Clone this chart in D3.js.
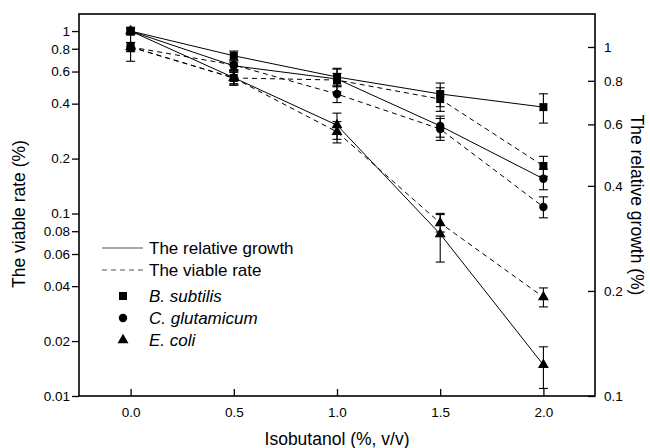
<!DOCTYPE html>
<html>
<head>
<meta charset="utf-8">
<script src="https://cdn.jsdelivr.net/npm/d3@7"></script>
<style>
  body { margin: 0; background: #fff; }
  svg text { font-family: "Liberation Sans", Arial, sans-serif; fill: #000; }
</style>
</head>
<body>
<div id="app"></div>
<script>
// isobutanol dose (%, v/v)
const doses = [0, 0.5, 1.0, 1.5, 2.0];
const species = ["B. subtilis", "C. glutamicum", "E. coli"];
const symbols = ["square", "circle", "triangle"];

// solid lines (left scale)
const growthBs = [1.0, 0.732, 0.56, 0.452, 0.383];
const growthCg = [1.0, 0.645, 0.546, 0.302, 0.155];
const growthEc = [1.0, 0.555, 0.305, 0.0772, 0.0148];
const growthBsErr = [0.05, 0.045, 0.065, 0.067, 0.07];
const growthCgErr = [0.03, 0.03, 0.04, 0.04, 0.02];
const growthEcErr = [0.03, 0.05, 0.05, 0.023, 0.0038];

// dashed lines (right scale)
const viableBs = [1.0, 0.815, 0.804, 0.709, 0.456];
const viableCg = [1.0, 0.888, 0.733, 0.582, 0.348];
const viableEc = [1.0, 0.815, 0.571, 0.313, 0.192];
const viableBsErr = [0.09, 0.037, 0.06, 0.055, 0.03];
const viableCgErr = [0.03, 0.03, 0.04, 0.042, 0.024];
const viableEcErr = [0.03, 0.03, 0.04, 0.018, 0.012];

const xTicks = [0, 0.5, 1.0, 1.5, 2.0];
const leftTicks = [0.01, 0.02, 0.04, 0.06, 0.08, 0.1, 0.2, 0.4, 0.6, 0.8, 1];
const rightTicks = [0.1, 0.2, 0.4, 0.6, 0.8, 1];

const W = 650, H = 448;
const plot = {left: 79, right: 595, top: 14, bottom: 396};

const svg = d3.select("#app").append("svg")
    .attr("width", W)
    .attr("height", H);

const x = d3.scaleLinear().domain([-0.25, 2.25]).range([plot.left, plot.right]);
const yLeft = d3.scaleLog().domain([0.01, 1.24]).range([plot.bottom, plot.top]);
const yRight = d3.scaleLog().domain([0.1, 1.243]).range([plot.bottom, plot.top]);

// axes
const xAxis = svg.append("g")
    .attr("transform", "translate(0," + plot.bottom + ")")
    .call(d3.axisBottom(x).tickValues(xTicks).tickFormat(d3.format(".1f"))
        .tickSizeInner(-7).tickSizeOuter(0).tickPadding(11));

const lAxis = svg.append("g")
    .attr("transform", "translate(" + plot.left + ",0)")
    .call(d3.axisLeft(yLeft).tickValues(leftTicks).tickFormat(d => String(d))
        .tickSizeInner(7).tickSizeOuter(0).tickPadding(2));

const rAxis = svg.append("g")
    .attr("transform", "translate(" + plot.right + ",0)")
    .call(d3.axisRight(yRight).tickValues(rightTicks).tickFormat(d => String(d))
        .tickSizeInner(-7).tickSizeOuter(0).tickPadding(9));

[xAxis, lAxis, rAxis].forEach(g => {
    g.select(".domain").remove();
    g.selectAll(".tick line").attr("stroke", "#000").attr("stroke-width", 1.3);
    g.selectAll(".tick text").style("font-size", "13.5px").attr("fill", "#000");
});

// frame
svg.append("rect")
    .attr("x", plot.left)
    .attr("y", plot.top)
    .attr("width", plot.right - plot.left)
    .attr("height", plot.bottom - plot.top)
    .attr("fill", "none")
    .attr("stroke", "#000")
    .attr("stroke-width", 1.6);

// titles
svg.append("text")
    .attr("x", (plot.left + plot.right) / 2 - 0)
    .attr("y", 445)
    .attr("text-anchor", "middle")
    .style("font-size", "17.5px")
    .text("Isobutanol (%, v/v)");

svg.append("text")
    .attr("transform", "translate(25,214) rotate(-90)")
    .attr("text-anchor", "middle")
    .style("font-size", "17.5px")
    .text("The viable rate (%)");

svg.append("text")
    .attr("transform", "translate(631,205) rotate(90)")
    .attr("text-anchor", "middle")
    .style("font-size", "17.5px")
    .text("The relative growth (%)");

// series
const series = [
    {vals: growthBs, err: growthBsErr, y: yLeft, dash: null, sym: 0},
    {vals: growthCg, err: growthCgErr, y: yLeft, dash: null, sym: 1},
    {vals: growthEc, err: growthEcErr, y: yLeft, dash: null, sym: 2},
    {vals: viableBs, err: viableBsErr, y: yRight, dash: "5,4", sym: 0},
    {vals: viableCg, err: viableCgErr, y: yRight, dash: "5,4", sym: 1},
    {vals: viableEc, err: viableEcErr, y: yRight, dash: "5,4", sym: 2}
];

const symbolType = {
    square: d3.symbolSquare,
    circle: d3.symbolCircle,
    triangle: d3.symbolTriangle
};
const symbolSize = {square: 64, circle: 56, triangle: 52};

const chart = svg.append("g");

series.forEach(s => {
    const pts = doses.map((d, i) => ({x: d, v: s.vals[i], e: s.err[i]}));
    chart.append("path")
        .datum(pts)
        .attr("fill", "none")
        .attr("stroke", "#000")
        .attr("stroke-width", 1)
        .attr("stroke-dasharray", s.dash)
        .attr("d", d3.line().x(d => x(d.x)).y(d => s.y(d.v)));
});

series.forEach(s => {
    const pts = doses.map((d, i) => ({x: d, v: s.vals[i], e: s.err[i]}));
    const eb = chart.append("g").selectAll("g").data(pts).join("g");
    eb.append("line")
        .attr("x1", d => x(d.x)).attr("x2", d => x(d.x))
        .attr("y1", d => s.y(d.v + d.e)).attr("y2", d => s.y(d.v - d.e))
        .attr("stroke", "#000").attr("stroke-width", 1.1);
    [1, -1].forEach(sign => {
        eb.append("line")
            .attr("x1", d => x(d.x) - 4.5).attr("x2", d => x(d.x) + 4.5)
            .attr("y1", d => s.y(d.v + sign * d.e)).attr("y2", d => s.y(d.v + sign * d.e))
            .attr("stroke", "#000").attr("stroke-width", 1.1);
    });
});

series.forEach(s => {
    const name = symbols[s.sym];
    chart.append("g").selectAll("path").data(doses.map((d, i) => ({x: d, v: s.vals[i]})))
        .join("path")
        .attr("transform", d => "translate(" + x(d.x) + "," + s.y(d.v) + ")")
        .attr("d", d3.symbol().type(symbolType[name]).size(symbolSize[name]))
        .attr("fill", "#000");
});

// legend
const legend = svg.append("g").attr("transform", "translate(102,248)");
const legendRows = [
    {label: "The relative growth", dash: null},
    {label: "The viable rate", dash: "5,4"}
];
legendRows.forEach((r, i) => {
    const yy = i * 22;
    legend.append("line")
        .attr("x1", 0).attr("x2", 41)
        .attr("y1", yy).attr("y2", yy)
        .attr("stroke", "#555").attr("stroke-width", 1.1)
        .attr("stroke-dasharray", r.dash);
    legend.append("text")
        .attr("x", 47).attr("y", yy + 6)
        .style("font-size", "17px")
        .text(r.label);
});
species.forEach((sp, i) => {
    const yy = 48 + i * 22;
    const name = symbols[i];
    legend.append("path")
        .attr("transform", "translate(21," + yy + ")")
        .attr("d", d3.symbol().type(symbolType[name]).size(symbolSize[name]))
        .attr("fill", "#000");
    legend.append("text")
        .attr("x", 47).attr("y", yy + 6)
        .style("font-size", "17px")
        .style("font-style", "italic")
        .text(sp);
});
</script>
</body>
</html>
